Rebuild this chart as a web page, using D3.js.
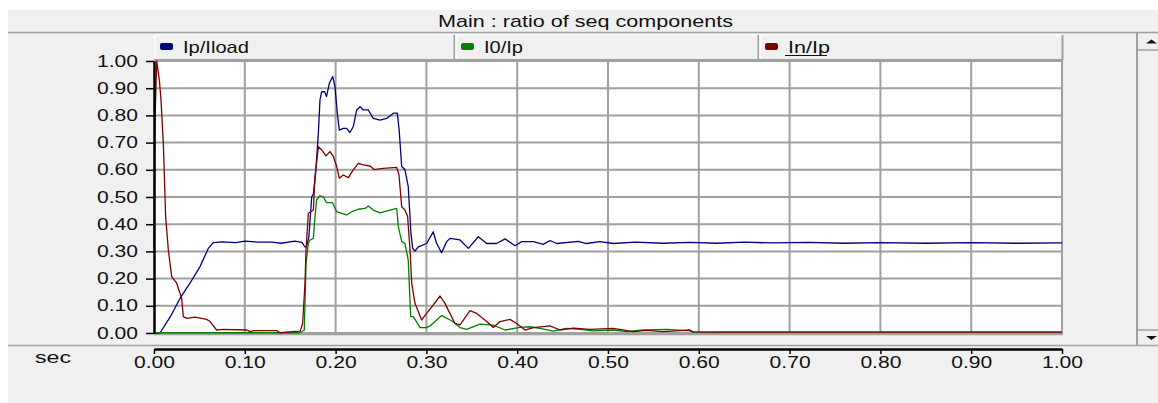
<!DOCTYPE html>
<html>
<head>
<meta charset="utf-8">
<script src="https://cdn.jsdelivr.net/npm/d3@7"></script>
<style>
  body { margin: 0; background: #fff; }
  text { font-family: "Liberation Sans", Arial, sans-serif; fill: #111; }
</style>
</head>
<body>
<div class="chart"></div>
<script>
// x ticks and y ticks of the sec axis
const xTicks = [0, 0.1, 0.2, 0.3, 0.4, 0.5, 0.6, 0.7, 0.8, 0.9, 1.0];
const yTicks = [0, 0.1, 0.2, 0.3, 0.4, 0.5, 0.6, 0.7, 0.8, 0.9, 1.0];
const seriesNames = ['Ip/Iload', 'I0/Ip', 'In/Ip'];
const seriesColors = ['#000080', '#008000', '#800000'];

// [sec, ratio]
const ipIload = [
  [0, 0], [0.0066, 0], [0.018, 0.06], [0.0286, 0.127], [0.0396, 0.183], [0.0507, 0.244],
  [0.0598, 0.311], [0.0653, 0.332], [0.075, 0.335], [0.09, 0.332], [0.1, 0.338], [0.115, 0.334],
  [0.13, 0.334], [0.14, 0.33], [0.155, 0.338], [0.163, 0.333], [0.166, 0.317], [0.168, 0.317],
  [0.1706, 0.354], [0.1737, 0.501], [0.1755, 0.511], [0.178, 0.587], [0.181, 0.734], [0.1828, 0.857],
  [0.1847, 0.887], [0.188, 0.887], [0.19, 0.869], [0.1931, 0.918], [0.1968, 0.943], [0.1993, 0.906],
  [0.2019, 0.808], [0.2041, 0.746], [0.2085, 0.752], [0.2122, 0.752], [0.2159, 0.737], [0.2195, 0.759],
  [0.2232, 0.82], [0.2269, 0.832], [0.2305, 0.82], [0.236, 0.82], [0.2415, 0.789], [0.2489, 0.783],
  [0.2563, 0.789], [0.2636, 0.808], [0.268, 0.808], [0.27, 0.746], [0.2728, 0.612], [0.2764, 0.6],
  [0.28, 0.538], [0.283, 0.366], [0.2849, 0.311], [0.2874, 0.301], [0.2911, 0.317], [0.3002, 0.329],
  [0.3076, 0.372], [0.3112, 0.33], [0.3167, 0.295], [0.3223, 0.336], [0.326, 0.348], [0.337, 0.342],
  [0.3462, 0.311], [0.3572, 0.354], [0.3664, 0.329], [0.3774, 0.329], [0.3866, 0.346], [0.3976, 0.321],
  [0.405, 0.336], [0.4178, 0.336], [0.4288, 0.326], [0.4361, 0.34], [0.4435, 0.329], [0.4673, 0.337],
  [0.476, 0.329], [0.4912, 0.336], [0.5058, 0.329], [0.53, 0.334], [0.56, 0.33], [0.59, 0.333],
  [0.62, 0.33], [0.65, 0.334], [0.68, 0.331], [0.72, 0.333], [0.76, 0.33], [0.8, 0.332],
  [0.85, 0.33], [0.9, 0.332], [0.95, 0.33], [1.0, 0.331]
];

const i0Ip = [
  [0, 0.001], [0.16, 0.001], [0.1655, 0.01], [0.1674, 0.256], [0.17, 0.33], [0.1718, 0.342],
  [0.1755, 0.348], [0.1773, 0.428], [0.1791, 0.489], [0.1828, 0.505], [0.1865, 0.5], [0.19, 0.479],
  [0.1966, 0.479], [0.2012, 0.446], [0.2067, 0.44], [0.2122, 0.434], [0.2177, 0.446], [0.225, 0.455],
  [0.2324, 0.458], [0.236, 0.467], [0.2415, 0.452], [0.2489, 0.442], [0.2599, 0.452], [0.2673, 0.458],
  [0.2691, 0.391], [0.2728, 0.336], [0.2764, 0.329], [0.28, 0.268], [0.2827, 0.06], [0.2856, 0.06],
  [0.293, 0.02], [0.3, 0.02], [0.304, 0.026], [0.3167, 0.064], [0.3278, 0.045], [0.337, 0.02],
  [0.3443, 0.013], [0.359, 0.033], [0.3737, 0.029], [0.3866, 0.011], [0.403, 0.021], [0.414, 0.023],
  [0.425, 0.017], [0.4398, 0.007], [0.4545, 0.017], [0.469, 0.013], [0.4838, 0.008], [0.5058, 0.011],
  [0.5206, 0.005], [0.539, 0.011], [0.5646, 0.013], [0.59, 0.008], [0.594, 0.003], [1.0, 0.003]
];

const inIp = [
  [0, 0.305], [0.001, 0.77], [0.003, 1.0], [0.0059, 0.93], [0.0077, 0.857], [0.0103, 0.697],
  [0.0128, 0.428], [0.0158, 0.305], [0.0195, 0.207], [0.025, 0.183], [0.0305, 0.127], [0.0323, 0.06],
  [0.036, 0.054], [0.0452, 0.058], [0.058, 0.05], [0.0617, 0.042], [0.069, 0.011], [0.076, 0.013],
  [0.102, 0.011], [0.1057, 0.005], [0.11, 0.009], [0.135, 0.009], [0.1388, 0.001], [0.1516, 0.005],
  [0.161, 0.007], [0.1637, 0.035], [0.1663, 0.183], [0.1674, 0.305], [0.17, 0.44], [0.1755, 0.452],
  [0.1773, 0.575], [0.181, 0.685], [0.1847, 0.673], [0.1894, 0.651], [0.1938, 0.667], [0.1975, 0.649],
  [0.2012, 0.612], [0.2041, 0.569], [0.2085, 0.581], [0.214, 0.571], [0.2195, 0.6], [0.225, 0.624],
  [0.2305, 0.618], [0.238, 0.614], [0.2423, 0.601], [0.2525, 0.605], [0.2673, 0.609], [0.2698, 0.581],
  [0.2728, 0.464], [0.2764, 0.452], [0.2793, 0.428], [0.282, 0.305], [0.2838, 0.183], [0.2874, 0.109],
  [0.2948, 0.048], [0.3002, 0.072], [0.3076, 0.103], [0.315, 0.136], [0.3205, 0.109], [0.3241, 0.084],
  [0.3315, 0.035], [0.337, 0.03], [0.348, 0.082], [0.3554, 0.072], [0.3664, 0.042], [0.3737, 0.02],
  [0.381, 0.042], [0.392, 0.05], [0.3994, 0.035], [0.4086, 0.011], [0.4178, 0.02], [0.4361, 0.026],
  [0.4471, 0.011], [0.4618, 0.018], [0.4802, 0.013], [0.5058, 0.017], [0.5279, 0.005], [0.542, 0.01],
  [0.561, 0.005], [0.575, 0.008], [0.59, 0.011], [0.594, 0.004], [0.62, 0.003], [1.0, 0.003]
];

const W = 1158, H = 403;
const plot = {left: 154, right: 1062, top: 61, bottom: 333};
const GRID = '#a0a0a0';

const svg = d3.select('.chart').append('svg')
  .attr('width', W).attr('height', H);

// window panels
svg.append('rect').attr('x', 8).attr('y', 10).attr('width', W - 8).attr('height', H - 10).attr('fill', '#f0f0f0');
svg.append('line').attr('x1', 8).attr('x2', W).attr('y1', 32.5).attr('y2', 32.5).attr('stroke', GRID).attr('stroke-width', 1.5);
svg.append('line').attr('x1', 8).attr('x2', W).attr('y1', 345.5).attr('y2', 345.5).attr('stroke', GRID).attr('stroke-width', 1.5);

svg.append('text').text('Main : ratio of seq components')
  .attr('x', 438).attr('y', 27).style('font-size', '17px')
  .attr('textLength', 295).attr('lengthAdjust', 'spacingAndGlyphs');

// scrollbar on the right
const sb = svg.append('g');
sb.append('line').attr('x1', 1137).attr('x2', 1137).attr('y1', 33).attr('y2', 345).attr('stroke', GRID).attr('stroke-width', 2);
sb.append('line').attr('x1', 1138).attr('x2', W).attr('y1', 50).attr('y2', 50).attr('stroke', GRID).attr('stroke-width', 1.5);
sb.append('line').attr('x1', 1138).attr('x2', W).attr('y1', 330).attr('y2', 330).attr('stroke', GRID).attr('stroke-width', 1.5);
sb.append('path').attr('d', 'M1146,43.5 L1157,43.5 L1151.5,39.5 Z').attr('fill', '#111');
sb.append('path').attr('d', 'M1146,336 L1157,336 L1151.5,340 Z').attr('fill', '#111');

// plot area
const x = d3.scaleLinear().domain([0, 1]).range([plot.left, plot.right]);
const y = d3.scaleLinear().domain([0, 1]).range([plot.bottom, plot.top]);

svg.append('rect').attr('x', plot.left).attr('y', plot.top - 1)
  .attr('width', plot.right - plot.left + 1).attr('height', plot.bottom - plot.top + 2)
  .attr('fill', '#fff');

// legend buttons
const legendX = [154, 455, 759, 1063];
const legend = svg.append('g');
seriesNames.forEach((name, i) => {
  const g = legend.append('g');
  const x0 = legendX[i], x1 = legendX[i + 1];
  g.append('line').attr('x1', x0 + 1).attr('x2', x0 + 1).attr('y1', 35).attr('y2', 60).attr('stroke', '#fff').attr('stroke-width', 1.5);
  g.append('line').attr('x1', x0 + 1).attr('x2', x1).attr('y1', 35).attr('y2', 35).attr('stroke', '#fff').attr('stroke-width', 1);
  g.append('line').attr('x1', x1 - 0.5).attr('x2', x1 - 0.5).attr('y1', 35).attr('y2', 60).attr('stroke', GRID).attr('stroke-width', 2);
  g.append('rect').attr('x', x0 + 6).attr('y', 43).attr('width', 13).attr('height', 7)
    .attr('rx', 2).attr('fill', seriesColors[i]);
  const t = g.append('text').text(name).attr('x', x0 + 29).attr('y', 53)
    .style('font-size', '16.5px').attr('lengthAdjust', 'spacingAndGlyphs')
    .attr('textLength', [66, 39, 42][i]);
  if (i === 2) {
    g.append('line').attr('x1', x0 + 26).attr('x2', x0 + 68).attr('y1', 55.5).attr('y2', 55.5).attr('stroke', '#111').attr('stroke-width', 1.2);
  }
});

// grid
const grid = svg.append('g');
grid.selectAll('.hgrid').data(yTicks).join('line').attr('class', 'hgrid')
  .attr('x1', plot.left).attr('x2', plot.right + 1)
  .attr('y1', d => y(d)).attr('y2', d => y(d))
  .attr('stroke', GRID).attr('stroke-width', 2);
grid.selectAll('.vgrid').data(xTicks.slice(1)).join('line').attr('class', 'vgrid')
  .attr('x1', d => x(d)).attr('x2', d => x(d))
  .attr('y1', plot.top - 1).attr('y2', plot.bottom + 1)
  .attr('stroke', GRID).attr('stroke-width', 2);
grid.append('line').attr('x1', plot.left).attr('x2', plot.right + 1)
  .attr('y1', plot.top - 1).attr('y2', plot.top - 1).attr('stroke', GRID).attr('stroke-width', 2);
grid.append('line').attr('x1', plot.left).attr('x2', plot.right + 1)
  .attr('y1', plot.bottom + 1.5).attr('y2', plot.bottom + 1.5).attr('stroke', GRID).attr('stroke-width', 1.5);

// series
const line = d3.line().x(d => x(d[0])).y(d => y(d[1]));
[ipIload, i0Ip, inIp].forEach((data, i) => {
  svg.append('path').datum(data)
    .attr('d', line)
    .attr('fill', 'none')
    .attr('stroke', seriesColors[i])
    .attr('stroke-width', 1.3)
    .attr('stroke-linejoin', 'round');
});

// y axis
const yAxis = d3.axisLeft(y).tickValues(yTicks).tickFormat(d3.format('.2f'))
  .tickSizeInner(8).tickSizeOuter(0).tickPadding(8);
const yAxisDraw = svg.append('g').attr('transform', `translate(${plot.left},0)`).call(yAxis);
yAxisDraw.select('.domain').attr('stroke', '#000').attr('stroke-width', 2.5);
yAxisDraw.selectAll('.tick line').attr('stroke', '#000').attr('stroke-width', 1.5);
yAxisDraw.selectAll('.tick text').style('font-size', '16px').style('font-family', '"Liberation Sans", Arial, sans-serif')
  .attr('fill', '#111').attr('textLength', 41).attr('lengthAdjust', 'spacingAndGlyphs');

// x axis
const xAxis = d3.axisBottom(x).tickValues(xTicks).tickFormat(d3.format('.2f'))
  .tickSizeInner(5).tickSizeOuter(0).tickPadding(3);
const xAxisDraw = svg.append('g').attr('transform', 'translate(0,349)').call(xAxis);
xAxisDraw.select('.domain').attr('stroke', '#000').attr('stroke-width', 2.5);
xAxisDraw.selectAll('.tick line').attr('stroke', '#000').attr('stroke-width', 1.5);
xAxisDraw.selectAll('.tick text').style('font-size', '16px').style('font-family', '"Liberation Sans", Arial, sans-serif')
  .attr('fill', '#111').attr('textLength', 41).attr('lengthAdjust', 'spacingAndGlyphs');

svg.append('text').text('sec').attr('x', 35).attr('y', 363)
  .style('font-size', '16px').attr('textLength', 36).attr('lengthAdjust', 'spacingAndGlyphs');
</script>
</body>
</html>
